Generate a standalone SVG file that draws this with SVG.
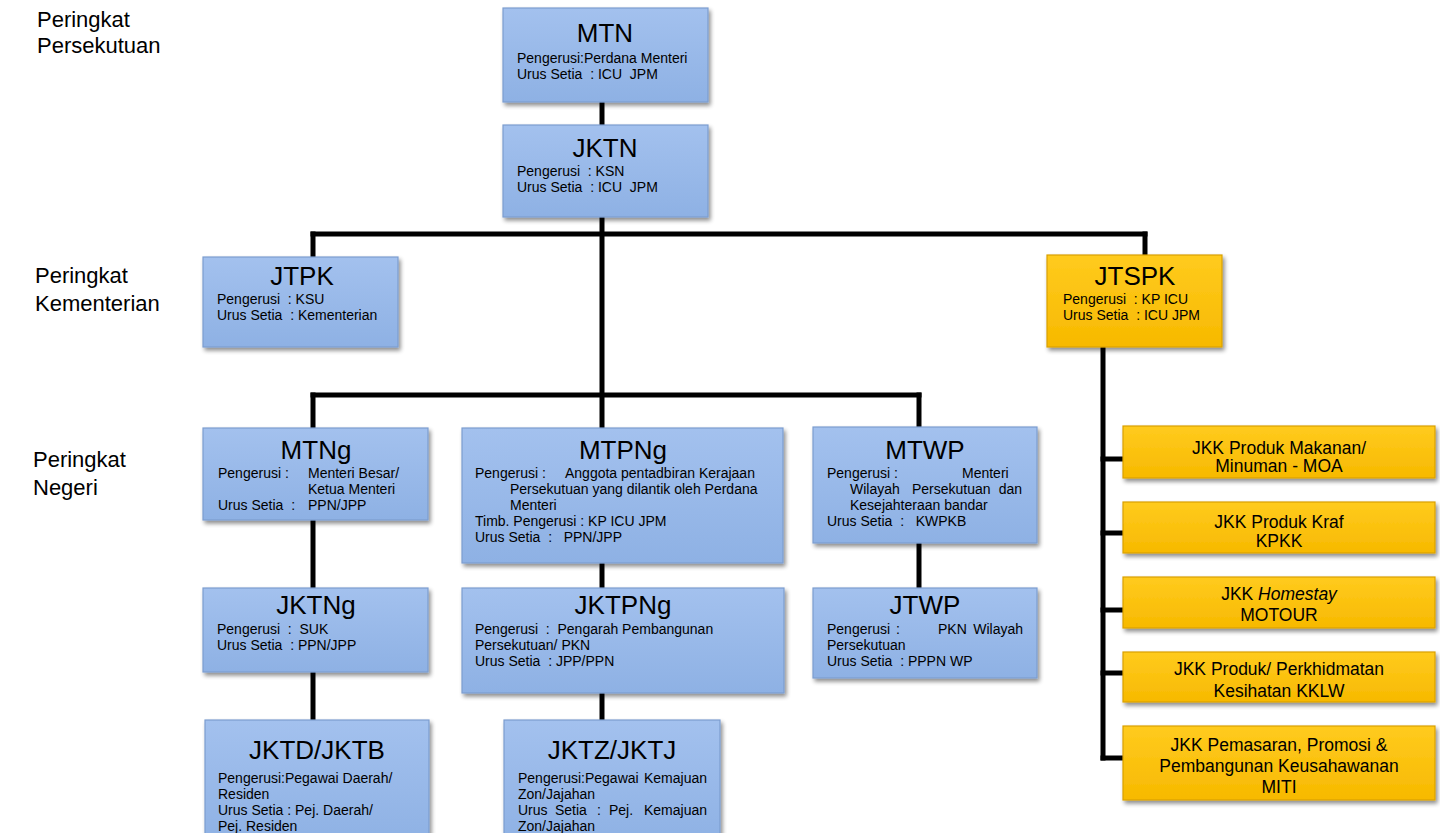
<svg xmlns="http://www.w3.org/2000/svg" width="1440" height="833" viewBox="0 0 1440 833">
<defs>
<linearGradient id="gb" x1="0" y1="0" x2="0" y2="1">
<stop offset="0" stop-color="#a3c1ee"/>
<stop offset="1" stop-color="#8eb1e4"/>
</linearGradient>
<linearGradient id="gy" x1="0" y1="0" x2="0" y2="1">
<stop offset="0" stop-color="#ffcb1e"/>
<stop offset="1" stop-color="#f7b900"/>
</linearGradient>
<filter id="sh" x="-10%" y="-10%" width="130%" height="140%">
<feGaussianBlur in="SourceAlpha" stdDeviation="2"/>
<feOffset dx="2" dy="3" result="b"/>
<feComponentTransfer><feFuncA type="linear" slope="0.45"/></feComponentTransfer>
<feMerge><feMergeNode/><feMergeNode in="SourceGraphic"/></feMerge>
</filter>
</defs>
<style>
.b{fill:url(#gb);stroke:#7c9dcf;stroke-width:1.2;filter:url(#sh)}
.y{fill:url(#gy);stroke:#d9a000;stroke-width:1.2;filter:url(#sh)}
text{font-family:"Liberation Sans",Arial,sans-serif;fill:#000}
.t{font-size:26px;text-anchor:middle}
.s{font-size:14px}
.k{font-size:17.5px;text-anchor:middle}
.l{font-size:22px}
.c{stroke:#000;stroke-width:5;fill:none;stroke-linecap:square}
</style>
<rect width="1440" height="833" fill="#fff"/>

<g id="labels">
<text class="l" x="37" y="27">Peringkat</text>
<text class="l" x="37" y="53">Persekutuan</text>
<text class="l" x="35" y="283">Peringkat</text>
<text class="l" x="35" y="311">Kementerian</text>
<text class="l" x="33" y="467">Peringkat</text>
<text class="l" x="33" y="495">Negeri</text>
</g>

<g id="connectors">
<path class="c" d="M602 102V125"/>
<path class="c" d="M602 217V428"/>
<path class="c" d="M313 234H1145"/>
<path class="c" d="M313 234V257"/>
<path class="c" d="M1145 234V255"/>
<path class="c" d="M313 395H919"/>
<path class="c" d="M313 395V428"/>
<path class="c" d="M919 395V427"/>
<path class="c" d="M313 520V588"/>
<path class="c" d="M313 672V720"/>
<path class="c" d="M602 563V588"/>
<path class="c" d="M602 693V720"/>
<path class="c" d="M919 543V588"/>
<path class="c" d="M1103 347V758"/>
<path class="c" d="M1103 459H1123"/>
<path class="c" d="M1103 533H1123"/>
<path class="c" d="M1103 610H1123"/>
<path class="c" d="M1103 673H1123"/>
<path class="c" d="M1103 758H1123"/>
</g>

<g id="MTN">
<rect class="b" x="503" y="8" width="205" height="94"/>
<text class="t" x="605" y="42">MTN</text>
<text class="s" x="517" y="63">Pengerusi:Perdana Menteri</text>
<text class="s" x="517" y="79" xml:space="preserve">Urus Setia  : ICU  JPM</text>
</g>

<g id="JKTN">
<rect class="b" x="503" y="125" width="205" height="92"/>
<text class="t" x="605" y="157">JKTN</text>
<text class="s" x="517" y="176" xml:space="preserve">Pengerusi  : KSN</text>
<text class="s" x="517" y="192" xml:space="preserve">Urus Setia  : ICU  JPM</text>
</g>

<g id="JTPK">
<rect class="b" x="203" y="257" width="195" height="90"/>
<text class="t" x="302" y="285">JTPK</text>
<text class="s" x="217" y="304" xml:space="preserve">Pengerusi  : KSU</text>
<text class="s" x="217" y="320" xml:space="preserve">Urus Setia  : Kementerian</text>
</g>

<g id="JTSPK">
<rect class="y" x="1047" y="255" width="175" height="92"/>
<text class="t" x="1135" y="285">JTSPK</text>
<text class="s" x="1063" y="304" xml:space="preserve">Pengerusi  : KP ICU</text>
<text class="s" x="1063" y="320" xml:space="preserve">Urus Setia  : ICU JPM</text>
</g>

<g id="MTNg">
<rect class="b" x="203" y="428" width="225" height="92"/>
<text class="t" x="316" y="459">MTNg</text>
<text class="s" x="218" y="478">Pengerusi :</text>
<text class="s" x="308" y="478">Menteri Besar/</text>
<text class="s" x="308" y="494">Ketua Menteri</text>
<text class="s" x="218" y="510" xml:space="preserve">Urus Setia  :</text>
<text class="s" x="308" y="510">PPN/JPP</text>
</g>

<g id="MTPNg">
<rect class="b" x="462" y="428" width="321" height="135"/>
<text class="t" x="623" y="459">MTPNg</text>
<text class="s" x="475" y="478">Pengerusi :</text>
<text class="s" x="565" y="478">Anggota pentadbiran Kerajaan</text>
<text class="s" x="510" y="494">Persekutuan yang dilantik oleh Perdana</text>
<text class="s" x="510" y="510">Menteri</text>
<text class="s" x="475" y="526">Timb. Pengerusi : KP ICU JPM</text>
<text class="s" x="475" y="542" xml:space="preserve">Urus Setia  :   PPN/JPP</text>
</g>

<g id="MTWP">
<rect class="b" x="813" y="427" width="224" height="116"/>
<text class="t" x="925" y="459">MTWP</text>
<text class="s" x="827" y="478">Pengerusi :</text>
<text class="s" x="962" y="478">Menteri</text>
<text class="s" x="850" y="494">Wilayah</text>
<text class="s" x="912" y="494">Persekutuan</text>
<text class="s" x="1022" y="494" text-anchor="end">dan</text>
<text class="s" x="850" y="510">Kesejahteraan bandar</text>
<text class="s" x="827" y="526" xml:space="preserve">Urus Setia  :   KWPKB</text>
</g>

<g id="JKTNg">
<rect class="b" x="203" y="588" width="225" height="84"/>
<text class="t" x="316" y="614">JKTNg</text>
<text class="s" x="217" y="634" xml:space="preserve">Pengerusi  :  SUK</text>
<text class="s" x="217" y="650" xml:space="preserve">Urus Setia  : PPN/JPP</text>
</g>

<g id="JKTPNg">
<rect class="b" x="462" y="588" width="322" height="105"/>
<text class="t" x="623" y="614">JKTPNg</text>
<text class="s" x="475" y="634" xml:space="preserve">Pengerusi  :  Pengarah Pembangunan</text>
<text class="s" x="475" y="650">Persekutuan/ PKN</text>
<text class="s" x="475" y="666" xml:space="preserve">Urus Setia  : JPP/PPN</text>
</g>

<g id="JTWP">
<rect class="b" x="813" y="588" width="224" height="90"/>
<text class="t" x="925" y="614">JTWP</text>
<text class="s" x="827" y="634">Pengerusi</text>
<text class="s" x="896" y="634">:</text>
<text class="s" x="938" y="634">PKN</text>
<text class="s" x="1023" y="634" text-anchor="end">Wilayah</text>
<text class="s" x="827" y="650">Persekutuan</text>
<text class="s" x="827" y="666" xml:space="preserve">Urus Setia  : PPPN WP</text>
</g>

<g id="JKTD_JKTB">
<rect class="b" x="205" y="720" width="224" height="125"/>
<text class="t" x="317" y="759">JKTD/JKTB</text>
<text class="s" x="218" y="783">Pengerusi:Pegawai Daerah/</text>
<text class="s" x="218" y="799">Residen</text>
<text class="s" x="218" y="815">Urus Setia : Pej. Daerah/</text>
<text class="s" x="218" y="831">Pej. Residen</text>
</g>

<g id="JKTZ_JKTJ">
<rect class="b" x="504" y="720" width="216" height="125"/>
<text class="t" x="612" y="759">JKTZ/JKTJ</text>
<text class="s" x="518" y="783">Pengerusi:Pegawai</text>
<text class="s" x="707" y="783" text-anchor="end">Kemajuan</text>
<text class="s" x="518" y="799">Zon/Jajahan</text>
<text class="s" x="518" y="815">Urus</text>
<text class="s" x="555" y="815">Setia</text>
<text class="s" x="597" y="815">:</text>
<text class="s" x="609" y="815">Pej.</text>
<text class="s" x="707" y="815" text-anchor="end">Kemajuan</text>
<text class="s" x="518" y="831">Zon/Jajahan</text>
</g>

<g id="JKK1">
<rect class="y" x="1123" y="426" width="312" height="52"/>
<text class="k" x="1279" y="454">JKK Produk Makanan/</text>
<text class="k" x="1279" y="472">Minuman - MOA</text>
</g>

<g id="JKK2">
<rect class="y" x="1123" y="502" width="312" height="51"/>
<text class="k" x="1279" y="528">JKK Produk Kraf</text>
<text class="k" x="1279" y="547">KPKK</text>
</g>

<g id="JKK3">
<rect class="y" x="1123" y="577" width="312" height="51"/>
<text class="k" x="1279" y="600">JKK <tspan font-style="italic">Homestay</tspan></text>
<text class="k" x="1279" y="621">MOTOUR</text>
</g>

<g id="JKK4">
<rect class="y" x="1123" y="652" width="312" height="50"/>
<text class="k" x="1279" y="675">JKK Produk/ Perkhidmatan</text>
<text class="k" x="1279" y="697">Kesihatan KKLW</text>
</g>

<g id="JKK5">
<rect class="y" x="1123" y="726" width="312" height="74"/>
<text class="k" x="1279" y="751">JKK Pemasaran, Promosi &amp;</text>
<text class="k" x="1279" y="772">Pembangunan Keusahawanan</text>
<text class="k" x="1279" y="793">MITI</text>
</g>
</svg>
